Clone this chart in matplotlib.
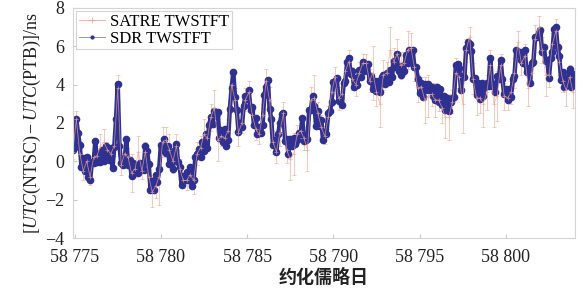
import numpy as np
import matplotlib
matplotlib.use("Agg")
import matplotlib.pyplot as plt
from matplotlib.lines import Line2D

plt.rcParams["font.family"] = ["Liberation Serif", "DejaVu Serif"]
plt.rcParams["mathtext.fontset"] = "custom"
plt.rcParams["mathtext.rm"] = "Liberation Serif"
plt.rcParams["mathtext.it"] = "Liberation Serif:italic"

# SDR TWSTFT, sampled every 0.1 d from MJD 58774.9
sdr_start, sdr_step = 58774.9, 0.1
sdr_vals = [
    0.6, 0.75, 2.2, 1.45, 0.85, -0.3, 0.15, -0.5, 0.2, -0.8,
    -1.0, -0.05, -0.1, 1.05, -0.05, 0.4, -0.05, 0.6, 0.0, 0.8,
    0.7, 0.05, 0.7, -0.35, 0.75, 2.2, 4.05, 0.8, -0.1, -0.2,
    0.0, 1.15, -0.2, 0.05, -0.75, -0.1, -0.55, -0.3, -0.6, -0.1,
    -0.3, -0.45, 0.8, 0.55, -0.15, -1.5, -1.05, -1.5, -0.7, -1.1,
    -0.4, 0.85, 0.6, 1.15, 0.45, 0.8, -0.15, 0.5, -0.4, 0.6,
    0.9, -0.05, -0.3, -1.25, -0.75, -1.0, -0.55, -1.0, -0.3, -1.3,
    -1.0, 0.25, 0.4, 0.65, 0.25, 1.0, 0.55, 1.4, 0.7, 1.9,
    2.3, 1.95, 2.6, 2.35, 2.55, 1.2, 1.65, 1.0, 1.7, 0.8,
    1.1, 2.75, 3.8, 4.65, 3.35, 2.7, 1.55, 2.0, 1.8, 2.9,
    3.4, 3.25, 3.7, 2.65, 2.85, 1.9, 2.25, 1.4, 1.8, 1.5,
    1.9, 3.45, 3.9, 4.25, 2.75, 2.2, 0.85, 1.1, 0.5, 1.4,
    2.0, 2.45, 2.5, 1.05, 1.15, 0.4, 1.15, 0.8, 1.2, 0.9,
    1.1, 1.45, 1.4, 2.25, 1.05, 1.1, 1.15, 2.7, 2.7, 3.4,
    2.9, 1.85, 2.6, 1.85, 2.15, 1.1, 1.55, 1.4, 2.5, 2.6,
    3.1, 4.15, 4.2, 4.35, 3.15, 3.3, 2.95, 4.1, 4.2, 5.2,
    5.4, 4.55, 4.7, 3.85, 4.35, 4.0, 4.75, 4.4, 5.2, 4.7,
    4.9, 5.05, 4.2, 4.45, 3.75, 4.2, 3.65, 4.2, 3.6, 4.4,
    4.5, 4.05, 4.6, 4.15, 4.75, 4.4, 5.25, 4.9, 5.6, 4.7,
    4.5, 4.95, 4.7, 5.55, 5.15, 5.8, 5.35, 5.8, 4.9, 4.9,
    4.3, 3.55, 4.1, 3.35, 4.05, 3.7, 4.05, 3.7, 3.9, 3.4,
    3.2, 3.85, 3.1, 3.75, 2.95, 3.4, 2.65, 3.3, 2.6, 3.1,
    3.3, 3.35, 5.0, 5.05, 4.85, 3.7, 4.45, 4.4, 5.9, 6.2,
    6.1, 5.75, 4.3, 4.35, 3.45, 4.1, 3.25, 4.1, 3.4, 3.9,
    4.1, 3.95, 5.4, 3.95, 4.05, 3.6, 4.45, 4.3, 5.3, 4.3,
    3.5, 3.75, 3.2, 3.75, 3.35, 4.3, 4.45, 5.8, 5.6, 5.7,
    5.3, 5.15, 5.8, 4.65, 4.85, 4.1, 5.15, 5.2, 6.5, 6.5,
    6.7, 6.85, 5.7, 5.95, 5.25, 5.3, 4.35, 5.4, 5.7, 6.9,
    7.0, 5.95, 5.5, 4.25, 4.65, 3.9, 4.35, 4.1, 4.8, 3.9,
    4.1, 4.55,
]

# SATRE TWSTFT, sampled every 0.2 d, with error bars
satre_start, satre_step = 58774.9, 0.2
satre_vals = [
    0.5, 2.2, 0.4, -0.5, 0.0, -0.8, 0.2, 0.3, 0.8, 1.0,
    0.6, 0.4, 0.8, 3.8, -0.2, 0.4, 0.2, -0.6, -0.4, 0.5,
    -0.5, 0.5, -0.8, -1.6, -1.3, -0.8, 1.0, 1.1, 0.6, 0.0,
    0.8, -0.4, -1.0, -1.0, -0.7, -1.0, 0.4, 0.7, 1.4, 1.2,
    2.3, 2.8, 1.1, 1.3, 1.2, 1.6, 4.0, 3.2, 1.5, 2.0,
    3.2, 3.6, 2.4, 1.7, 1.4, 2.4, 4.2, 3.2, 1.0, 0.5,
    1.5, 2.5, 0.6, 0.1, 0.4, 1.4, 1.6, 1.2, 0.6, 3.2,
    3.3, 2.5, 1.8, 1.3, 2.3, 3.6, 4.4, 3.3, 3.5, 4.7,
    5.2, 4.3, 4.0, 4.6, 5.1, 5.1, 4.2, 4.6, 3.6, 3.0,
    4.5, 4.6, 5.8, 5.2, 5.6, 5.0, 5.1, 5.8, 5.9, 4.9,
    3.8, 3.9, 3.2, 3.4, 3.5, 3.2, 3.2, 2.8, 2.3, 2.3,
    3.1, 4.6, 4.4, 3.0, 5.8, 6.5, 4.3, 3.3, 3.3, 3.0,
    3.6, 5.0, 3.0, 3.4, 5.0, 3.4, 3.3, 3.6, 4.6, 6.2,
    5.1, 5.5, 3.8, 4.6, 6.4, 7.0, 5.8, 4.5, 4.5, 6.1,
    6.8, 5.2, 4.2, 3.7, 4.4, 3.6,
]
satre_err = [
    0.4, 0.4, 0.3, 0.5, 0.3, 0.45, 0.3, 0.3, 0.6, 0.7,
    0.4, 0.4, 0.5, 0.7, 0.5, 0.4, 0.5, 1.0, 0.4, 0.8,
    0.4, 0.5, 0.6, 0.8, 0.6, 1.5, 0.8, 0.7, 0.8, 0.6,
    0.6, 0.5, 0.4, 0.5, 0.5, 0.7, 0.6, 0.6, 0.8, 0.6,
    0.7, 0.9, 1.1, 0.5, 0.5, 0.6, 0.5, 0.6, 0.7, 0.5,
    0.6, 0.6, 0.5, 0.6, 0.5, 0.6, 0.6, 0.7, 0.6, 0.6,
    0.7, 0.6, 0.7, 1.1, 1.1, 0.5, 0.6, 0.6, 1.1, 0.7,
    1.2, 0.6, 0.6, 0.4, 0.6, 0.7, 0.5, 0.6, 0.6, 0.6,
    0.6, 0.6, 0.6, 0.6, 0.5, 0.5, 0.6, 1.4, 0.7, 1.2,
    0.8, 0.6, 1.2, 0.7, 0.8, 0.7, 0.6, 1.0, 0.8, 0.7,
    0.7, 0.5, 1.2, 1.1, 0.6, 0.9, 0.6, 0.8, 1.1, 1.2,
    0.6, 0.8, 0.6, 1.5, 0.6, 0.5, 0.8, 0.9, 0.8, 1.2,
    0.9, 0.8, 1.2, 1.3, 0.6, 0.7, 0.6, 0.6, 0.8, 0.6,
    0.6, 0.6, 0.9, 0.6, 0.7, 0.6, 0.7, 1.1, 0.6, 0.6,
    0.6, 0.7, 0.6, 0.8, 0.6, 0.8,
]

x_ticks = [58775, 58780, 58785, 58790, 58795, 58800]
x_tick_labels = ["58 775", "58 780", "58 785", "58 790", "58 795", "58 800"]
y_ticks = [-4, -2, 0, 2, 4, 6, 8]

sdr_mjd = sdr_start + sdr_step * np.arange(len(sdr_vals))
satre_mjd = satre_start + satre_step * np.arange(len(satre_vals))

pink = "#f2a593"
navy = "#2e3192"

fig = plt.figure(figsize=(5.83, 2.91), dpi=100)
ax = fig.add_axes([0.125, 0.182, 0.861, 0.791])

ax.errorbar(satre_mjd, satre_vals, yerr=satre_err, color=pink, alpha=0.7,
            lw=0.6, elinewidth=0.6, capsize=1.5, capthick=0.6,
            marker="+", markersize=3, markeredgewidth=0.6)
ax.plot(sdr_mjd, sdr_vals, color=navy, lw=3.2, marker="o",
        markersize=5.5, markeredgewidth=0, solid_joinstyle="round")

ax.set_xlim(58774.9, 58804.0)
ax.set_ylim(-4, 8)
ax.set_xticks(x_ticks)
ax.set_xticklabels(x_tick_labels)
ax.set_yticks(y_ticks)
ax.set_yticklabels([str(v).replace("-", "\u2212") for v in y_ticks])
ax.tick_params(direction="in", length=3, color="#c8c8c8", labelsize=13,
               labelcolor="#222222")
ax.tick_params(axis="x", pad=8)
ax.tick_params(axis="y", pad=6)
for sp in ax.spines.values():
    sp.set_color("#d4d4d4")
    sp.set_linewidth(0.8)

ax.set_ylabel(r"$[\mathit{UTC}(\mathrm{NTSC})-\mathit{UTC}(\mathrm{PTB})]/\mathrm{ns}$",
              fontsize=13, labelpad=2, color="#222222")
ax.set_xlabel("约化儒略日", fontsize=13, family=["Noto Sans CJK SC", "DejaVu Sans"],
              fontweight="bold", labelpad=1, color="#222222")

handles = [
    Line2D([], [], color=pink, lw=0.6, marker="+", markersize=4, markeredgewidth=0.6),
    Line2D([], [], color="#7e82c4", lw=0.6, marker="o", markersize=3,
           markerfacecolor=navy, markeredgewidth=0),
]
leg = ax.legend(handles, ["SATRE TWSTFT", "SDR TWSTFT"], loc="upper left",
                fontsize=12, frameon=True, fancybox=False, framealpha=1,
                borderpad=0.15, labelspacing=0.05, handlelength=1.6,
                handletextpad=0.3, borderaxespad=0.2)
leg.get_frame().set_edgecolor("#d4d4d4")
leg.get_frame().set_linewidth(0.8)

fig.savefig("out.png", dpi=100)
